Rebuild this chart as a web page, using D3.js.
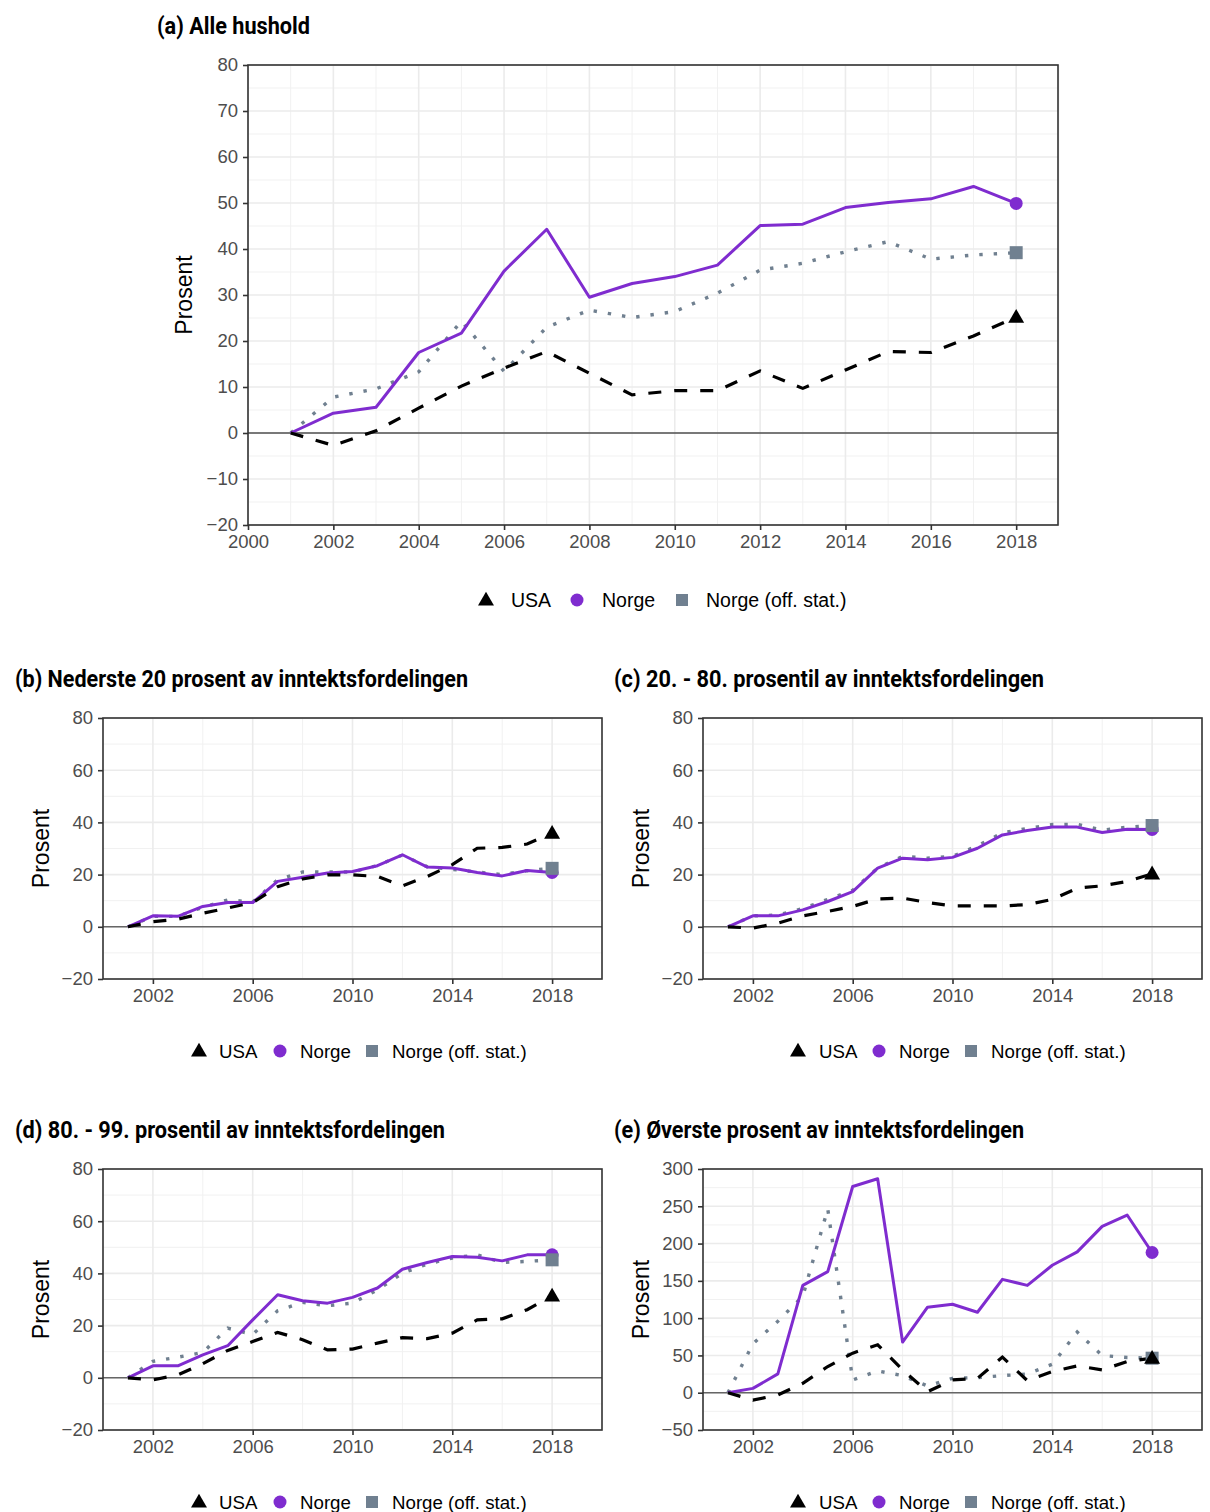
<!DOCTYPE html>
<html><head><meta charset="utf-8">
<script src="https://cdn.jsdelivr.net/npm/d3@7"></script>
<style>body{margin:0;background:#fff;} svg{display:block;}</style>
</head><body>
<svg id="chart" width="1210" height="1512"></svg>
<script>
const years = [2001,2002,2003,2004,2005,2006,2007,2008,2009,2010,2011,2012,2013,2014,2015,2016,2017,2018];
const seriesNames = ["USA","Norge","Norge (off. stat.)"];

const aUSA   = [0,-2.7,0.5,5.4,10.2,14.1,17.7,13.0,8.3,9.2,9.2,13.5,9.7,13.7,17.7,17.5,21.1,25.2];
const aNorge = [0,4.3,5.6,17.5,21.7,35.2,44.3,29.5,32.5,34.0,36.5,45.1,45.4,49.0,50.1,50.9,53.6,49.9];
const aOff   = [0,7.8,9.6,13.3,24.3,13.4,23.0,26.7,25.1,26.4,30.4,35.4,36.9,39.4,41.6,37.8,38.7,39.2];

const bUSA   = [0,2.0,2.9,5.2,7.2,9.3,15.4,18.3,19.9,19.9,19.3,15.7,19.3,23.8,30.1,30.4,31.7,35.9];
const bNorge = [0,4.2,4.0,7.8,9.3,9.3,17.4,19.0,20.6,21.2,23.4,27.6,22.9,22.5,20.8,19.5,21.6,20.8];
const bOff   = [0,4.0,4.0,7.5,10.3,9.5,18.0,21.0,21.0,21.0,23.5,27.5,23.0,22.0,21.0,20.0,21.5,22.4];

const cUSA   = [0,-0.5,1.4,4.2,5.9,7.8,10.7,11.0,9.3,8.0,8.0,8.0,8.5,10.5,14.8,15.7,17.4,20.3];
const cNorge = [0,4.2,4.2,6.5,9.7,13.5,22.5,26.3,25.7,26.6,30.1,35.2,36.9,38.2,38.2,36.1,37.4,37.3];
const cOff   = [0,4.2,4.5,7.0,10.5,14.0,22.5,27.0,26.3,27.0,31.0,36.0,37.7,39.2,39.3,37.0,38.2,38.8];

const dUSA   = [0,-0.8,1.1,5.4,10.5,13.9,17.4,14.6,10.7,11.0,13.3,15.4,15.0,17.1,22.2,22.6,26.1,31.4];
const dNorge = [0,4.6,4.6,8.8,12.3,22.2,31.8,29.5,28.6,30.8,34.4,41.6,44.2,46.5,46.2,44.8,47.1,47.1];
const dOff   = [0,6.3,7.9,9.7,19.0,16.6,25.7,28.9,27.6,28.6,33.7,40.1,43.6,45.9,47.1,44.2,44.6,45.2];

const eUSA   = [0,-9.9,-3.1,12.6,35.1,53.1,64.3,30.6,1.3,17.1,19.3,47.7,16.2,28.3,36.0,30.6,41.8,46.3];
const eNorge = [0,5.8,25.2,143.9,162.3,276.5,286.9,67.9,114.7,118.7,107.9,152.0,143.9,170.9,188.8,223.0,238.3,188.0];
const eOff   = [0,65.6,95.8,129.5,246.4,17.1,29.2,22.9,9.0,19.3,20.2,22.9,25.2,38.2,81.4,49.9,47.2,46.3];

const titles = ["(a) Alle hushold",
  "(b) Nederste 20 prosent av inntektsfordelingen",
  "(c) 20. - 80. prosentil av inntektsfordelingen",
  "(d) 80. - 99. prosentil av inntektsfordelingen",
  "(e) Øverste prosent av inntektsfordelingen"];

const xTicksA = [2000,2002,2004,2006,2008,2010,2012,2014,2016,2018];
const xTicksS = [2002,2006,2010,2014,2018];
const yTicksA = [-20,-10,0,10,20,30,40,50,60,70,80];
const yTicksS = [-20,0,20,40,60,80];
const yTicksE = [-50,0,50,100,150,200,250,300];

const COL_USA = "#000000", COL_NO = "#7f2ccf", COL_OFF = "#708090";

const svg = d3.select("#chart");

function panel(cfg) {
  const {x0,x1,y0,y1,xDom,yDom,xTicks,xMinor,yTicks,yMinor,usa,no,off,title,titleX,titleY,titleW,labX,legY,legX,zeroCol,zeroW,legFs} = cfg;
  const x = d3.scaleLinear().domain(xDom).range([x0,x1]);
  const y = d3.scaleLinear().domain(yDom).range([y1,y0]);
  const g = svg.append("g");
  g.selectAll(".vmin").data(xMinor).join("line")
    .attr("x1",d=>x(d)).attr("x2",d=>x(d)).attr("y1",y0).attr("y2",y1)
    .attr("stroke","#f1f1f1").attr("stroke-width",1);
  g.selectAll(".hmin").data(yMinor).join("line")
    .attr("y1",d=>y(d)).attr("y2",d=>y(d)).attr("x1",x0).attr("x2",x1)
    .attr("stroke","#f1f1f1").attr("stroke-width",1);
  g.selectAll(".vmaj").data(xTicks).join("line")
    .attr("x1",d=>x(d)).attr("x2",d=>x(d)).attr("y1",y0).attr("y2",y1)
    .attr("stroke","#ebebeb").attr("stroke-width",1.6);
  g.selectAll(".hmaj").data(yTicks).join("line")
    .attr("y1",d=>y(d)).attr("y2",d=>y(d)).attr("x1",x0).attr("x2",x1)
    .attr("stroke","#ebebeb").attr("stroke-width",1.6);
  g.append("line").attr("x1",x0).attr("x2",x1).attr("y1",y(0)).attr("y2",y(0))
    .attr("stroke",zeroCol).attr("stroke-width",zeroW);
  const line = d3.line().x((d,i)=>x(years[i])).y(d=>y(d));
  g.append("path").datum(off).attr("d",line).attr("fill","none")
    .attr("stroke",COL_OFF).attr("stroke-width",3.4).attr("stroke-dasharray","3.4 11");
  g.append("path").datum(no).attr("d",line).attr("fill","none")
    .attr("stroke",COL_NO).attr("stroke-width",3).attr("stroke-linejoin","round");
  g.append("path").datum(usa).attr("d",line).attr("fill","none")
    .attr("stroke",COL_USA).attr("stroke-width",3.2).attr("stroke-dasharray","13 13");
  const n = years.length-1, xe = x(years[n]);
  g.append("circle").attr("cx",xe).attr("cy",y(no[n])).attr("r",6.5).attr("fill",COL_NO);
  g.append("rect").attr("x",xe-6.5).attr("y",y(off[n])-6.5).attr("width",13).attr("height",13).attr("fill",COL_OFF);
  g.append("path").attr("d",d3.symbol().type(d3.symbolTriangle).size(110)()).attr("transform",`translate(${xe},${y(usa[n])+1})`).attr("fill",COL_USA);
  g.append("rect").attr("x",x0).attr("y",y0).attr("width",x1-x0).attr("height",y1-y0)
    .attr("fill","none").attr("stroke","#333").attr("stroke-width",1.6);
  const xa = g.append("g").attr("transform",`translate(0,${y1})`)
    .call(d3.axisBottom(x).tickValues(xTicks).tickFormat(d3.format("d")).tickSize(5).tickPadding(5));
  const ya = g.append("g").attr("transform",`translate(${x0},0)`)
    .call(d3.axisLeft(y).tickValues(yTicks).tickFormat(d=>d<0?"\u2212"+Math.abs(d):d).tickSize(5).tickPadding(5));
  [xa,ya].forEach(a=>{
    a.select(".domain").remove();
    a.selectAll(".tick line").attr("stroke","#333").attr("stroke-width",1.6);
    a.selectAll(".tick text").attr("fill","#4d4d4d").style("font-family","'Liberation Sans', Arial, sans-serif").style("font-size","18.5px");
  });
  g.append("text").attr("transform",`translate(${labX},${(y0+y1)/2}) rotate(-90)`)
    .attr("text-anchor","middle").style("font-family","'Liberation Sans', Arial, sans-serif").style("font-size","23px").attr("fill","#000").text("Prosent");
  g.append("text").attr("x",titleX).attr("y",titleY).attr("textLength",titleW).attr("lengthAdjust","spacingAndGlyphs")
    .style("font-family","Roboto, 'Liberation Sans', sans-serif").style("font-weight","700").style("font-size","24px").attr("fill","#000").text(title);
  const lg = g.append("g").attr("transform",`translate(0,${legY})`);
  const lf = "'Liberation Sans', Arial, sans-serif";
  lg.append("path").attr("d",d3.symbol().type(d3.symbolTriangle).size(110)()).attr("transform",`translate(${legX[0]},1)`).attr("fill",COL_USA);
  lg.append("circle").attr("cx",legX[2]).attr("cy",0).attr("r",6.5).attr("fill",COL_NO);
  lg.append("rect").attr("x",legX[4]-6).attr("y",-6).attr("width",12).attr("height",12).attr("fill",COL_OFF);
  [[legX[1],seriesNames[0]],[legX[3],seriesNames[1]],[legX[5],seriesNames[2]]].forEach(([lx,t])=>{
    lg.append("text").attr("x",lx).attr("y",7).style("font-family",lf).style("font-size",legFs+"px").attr("fill","#000").text(t);
  });
}

const minorA = [2001,2003,2005,2007,2009,2011,2013,2015,2017,2019];
const minorS = [2000,2004,2008,2012,2016,2020];

panel({x0:248,x1:1058,y0:65,y1:525,xDom:[2000,2018.98],yDom:[-20,80],xTicks:xTicksA,xMinor:minorA,
  yTicks:yTicksA,yMinor:[-15,-5,5,15,25,35,45,55,65,75],usa:aUSA,no:aNorge,off:aOff,legFs:19.5,
  title:titles[0],titleX:157,titleY:34,titleW:153,labX:192,legY:600,legX:[486,511,577,602,682,706],zeroCol:"#000",zeroW:1.2});

const minorYS = [-10,10,30,50,70];
panel({x0:103,x1:602,y0:718,y1:979,xDom:[2000,2020],yDom:[-20,80],xTicks:xTicksS,xMinor:minorS,legFs:18.7,
  yTicks:yTicksS,yMinor:minorYS,usa:bUSA,no:bNorge,off:bOff,
  title:titles[1],titleX:15,titleY:687,titleW:453,labX:49,legY:1051,legX:[199,219,280,300,372,392],zeroCol:"#666",zeroW:1.6});
panel({x0:703,x1:1202,y0:718,y1:979,xDom:[2000,2020],yDom:[-20,80],xTicks:xTicksS,xMinor:minorS,legFs:18.7,
  yTicks:yTicksS,yMinor:minorYS,usa:cUSA,no:cNorge,off:cOff,
  title:titles[2],titleX:614,titleY:687,titleW:430,labX:649,legY:1051,legX:[798,819,879,899,971,991],zeroCol:"#666",zeroW:1.6});
panel({x0:103,x1:602,y0:1169,y1:1430,xDom:[2000,2020],yDom:[-20,80],xTicks:xTicksS,xMinor:minorS,legFs:18.7,
  yTicks:yTicksS,yMinor:minorYS,usa:dUSA,no:dNorge,off:dOff,
  title:titles[3],titleX:15,titleY:1138,titleW:430,labX:49,legY:1502,legX:[199,219,280,300,372,392],zeroCol:"#666",zeroW:1.6});
panel({x0:703,x1:1202,y0:1169,y1:1430,xDom:[2000,2020],yDom:[-50,300],xTicks:xTicksS,xMinor:minorS,legFs:18.7,
  yTicks:yTicksE,yMinor:[-25,25,75,125,175,225,275],usa:eUSA,no:eNorge,off:eOff,
  title:titles[4],titleX:614,titleY:1138,titleW:410,labX:649,legY:1502,legX:[798,819,879,899,971,991],zeroCol:"#666",zeroW:1.6});
</script>
</body></html>
